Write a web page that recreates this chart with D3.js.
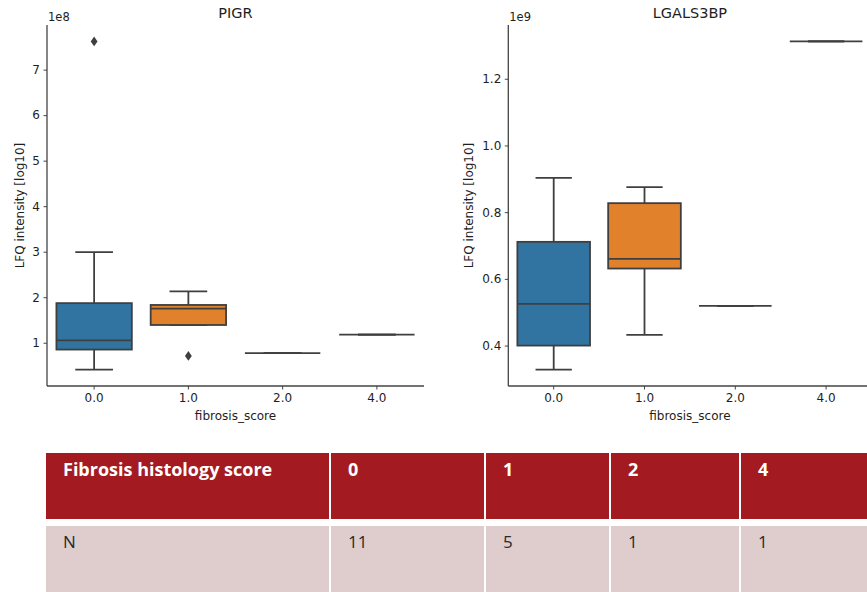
<!DOCTYPE html>
<html>
<head>
<meta charset="utf-8">
<script src="https://cdn.jsdelivr.net/npm/d3@7"></script>
<style>
  body { margin: 0; background: #fff; overflow: hidden; }
  svg text { font-family: "DejaVu Sans", sans-serif; fill: #1e1e1e; }
  .tbl text { font-family: "Open Sans", sans-serif; }
</style>
</head>
<body>
<svg id="chart" width="867" height="592"></svg>
<script>
// categories on the x axis
let categories = ["0.0", "1.0", "2.0", "4.0"];
let boxColors = ["#3274a1", "#e1812c", "#3a923a", "#c03d3e"];

// PIGR box stats (units of 1e8)
let pigrQ1 = [0.85, 1.39, 0.77, 1.18];
let pigrMedian = [1.05, 1.75, 0.77, 1.18];
let pigrQ3 = [1.87, 1.83, 0.77, 1.18];
let pigrLow = [0.41, 1.39, 0.77, 1.18];
let pigrHigh = [2.99, 2.13, 0.77, 1.18];
let pigrOutliers = [[7.62], [0.71], [], []];

// LGALS3BP box stats (units of 1e9)
let lgalsQ1 = [0.400, 0.631, 0.519, 1.312];
let lgalsMedian = [0.525, 0.660, 0.519, 1.312];
let lgalsQ3 = [0.711, 0.827, 0.519, 1.312];
let lgalsLow = [0.328, 0.432, 0.519, 1.312];
let lgalsHigh = [0.903, 0.875, 0.519, 1.312];
let lgalsOutliers = [[], [], [], []];

// table below the plots
let tableHeader = ["Fibrosis histology score", "0", "1", "2", "4"];
let tableRow = ["N", "11", "5", "1", "1"];

let svg = d3.select("#chart");

function buildStats(q1, med, q3, lo, hi, out) {
    return categories.map((c, i) => ({
        cat: c, q1: q1[i], median: med[i], q3: q3[i], low: lo[i], high: hi[i],
        outliers: out[i], color: boxColors[i]
    }));
}

function drawPanel(opts) {
    let stats = opts.stats;
    let g = svg.append("g");

    let x = d3.scaleBand()
        .domain(categories)
        .range([opts.left, opts.right])
        .paddingInner(0.2)
        .paddingOuter(0.1);

    // matplotlib style 5% margins around data
    let allVals = [];
    stats.forEach(s => { allVals.push(s.low, s.high); s.outliers.forEach(o => allVals.push(o)); });
    let ext = d3.extent(allVals);
    let pad = (ext[1] - ext[0]) * 0.05;
    let y = d3.scaleLinear()
        .domain([ext[0] - pad, ext[1] + pad])
        .range([opts.bottom, opts.top]);

    let edge = "#3f3f3f";
    let lw = 1.8;
    let bw = x.bandwidth();

    let boxes = g.selectAll(".box")
        .data(stats)
        .enter()
        .append("g")
        .attr("class", "box");

    // whiskers
    boxes.append("line")
        .attr("x1", d => x(d.cat) + bw / 2).attr("x2", d => x(d.cat) + bw / 2)
        .attr("y1", d => y(d.low)).attr("y2", d => y(d.high))
        .style("stroke", edge).style("stroke-width", lw);
    boxes.selectAll(".cap")
        .data(d => [d.low, d.high].map(v => ({ cat: d.cat, v: v })))
        .enter()
        .append("line")
        .attr("x1", d => x(d.cat) + bw / 4).attr("x2", d => x(d.cat) + bw * 3 / 4)
        .attr("y1", d => y(d.v)).attr("y2", d => y(d.v))
        .style("stroke", edge).style("stroke-width", lw);

    // box body
    boxes.append("rect")
        .attr("x", d => x(d.cat))
        .attr("width", bw)
        .attr("y", d => y(d.q3))
        .attr("height", d => Math.max(0, y(d.q1) - y(d.q3)))
        .style("fill", d => d.color)
        .style("stroke", edge)
        .style("stroke-width", lw);

    // median
    boxes.append("line")
        .attr("x1", d => x(d.cat)).attr("x2", d => x(d.cat) + bw)
        .attr("y1", d => y(d.median)).attr("y2", d => y(d.median))
        .style("stroke", edge).style("stroke-width", lw);

    // outliers as diamonds
    let diamond = d3.symbol().type(d3.symbolDiamond).size(28);
    boxes.selectAll(".flier")
        .data(d => d.outliers.map(v => ({ cat: d.cat, v: v })))
        .enter()
        .append("path")
        .attr("d", diamond)
        .attr("transform", d => "translate(" + (x(d.cat) + bw / 2) + "," + y(d.v) + ") scale(1.2,1)")
        .style("fill", edge);

    // axes
    let yAxis = g.append("g")
        .attr("transform", "translate(" + opts.left + ",0)")
        .call(d3.axisLeft(y).tickValues(opts.ticks).tickFormat(d3.format(opts.fmt)).tickSize(3.5).tickPadding(3.5));
    let xAxis = g.append("g")
        .attr("transform", "translate(0," + opts.bottom + ")")
        .call(d3.axisBottom(x).tickSize(3.5).tickPadding(3.5));
    [xAxis, yAxis].forEach(a => {
        a.select(".domain").style("stroke", "#444").style("stroke-width", 1.3).attr("d",
            a === xAxis ? "M" + opts.left + ",0H" + opts.right : "M0," + opts.top + "V" + opts.bottom);
        a.selectAll(".tick line").style("stroke", "#444");
        a.selectAll(".tick text").style("font-size", "12px").style("font-family", "DejaVu Sans").style("fill", "#1e1e1e");
    });

    // labels
    g.append("text")
        .attr("x", (opts.left + opts.right) / 2).attr("y", 18)
        .attr("text-anchor", "middle").style("font-size", "14.5px")
        .text(opts.title);
    g.append("text")
        .attr("x", opts.left + 1).attr("y", 21)
        .style("font-size", "11.5px")
        .text(opts.offset);
    g.append("text")
        .attr("x", (opts.left + opts.right) / 2).attr("y", 420)
        .attr("text-anchor", "middle").style("font-size", "12px")
        .text("fibrosis_score");
    g.append("text")
        .attr("transform", "translate(" + opts.ylabelX + "," + ((opts.top + opts.bottom) / 2) + ") rotate(-90)")
        .attr("text-anchor", "middle").style("font-size", "12px")
        .text("LFQ intensity [log10]");
}

drawPanel({
    stats: buildStats(pigrQ1, pigrMedian, pigrQ3, pigrLow, pigrHigh, pigrOutliers),
    left: 47, right: 424, top: 25, bottom: 386,
    ticks: [1, 2, 3, 4, 5, 6, 7], fmt: "d",
    title: "PIGR", offset: "1e8", ylabelX: 24
});

drawPanel({
    stats: buildStats(lgalsQ1, lgalsMedian, lgalsQ3, lgalsLow, lgalsHigh, lgalsOutliers),
    left: 508.3, right: 871.5, top: 25, bottom: 386,
    ticks: [0.4, 0.6, 0.8, 1.0, 1.2], fmt: ".1f",
    title: "LGALS3BP", offset: "1e9", ylabelX: 473
});

///--------------------table ------------------------------------------
let colEdges = [46, 331, 486, 611, 741, 880];
let tbl = svg.append("g").attr("class", "tbl");

function drawRow(cells, y0, h, fill, textFill, weight, base) {
    let row = tbl.append("g");
    row.selectAll("rect")
        .data(cells)
        .enter()
        .append("rect")
        .attr("x", (d, i) => colEdges[i])
        .attr("y", y0)
        .attr("width", (d, i) => colEdges[i + 1] - colEdges[i] - 2)
        .attr("height", h)
        .style("fill", fill);
    row.selectAll("text")
        .data(cells)
        .enter()
        .append("text")
        .attr("x", (d, i) => colEdges[i] + 17)
        .attr("y", y0 + base)
        .style("font-size", weight === "bold" ? "18px" : "17px")
        .style("font-weight", weight)
        .style("fill", textFill)
        .text(d => d);
}

drawRow(tableHeader, 453, 66, "#a31b20", "#ffffff", "bold", 23);
drawRow(tableRow, 526, 70, "#dfcccd", "#2a2a2a", "normal", 21.5);
</script>
</body>
</html>
